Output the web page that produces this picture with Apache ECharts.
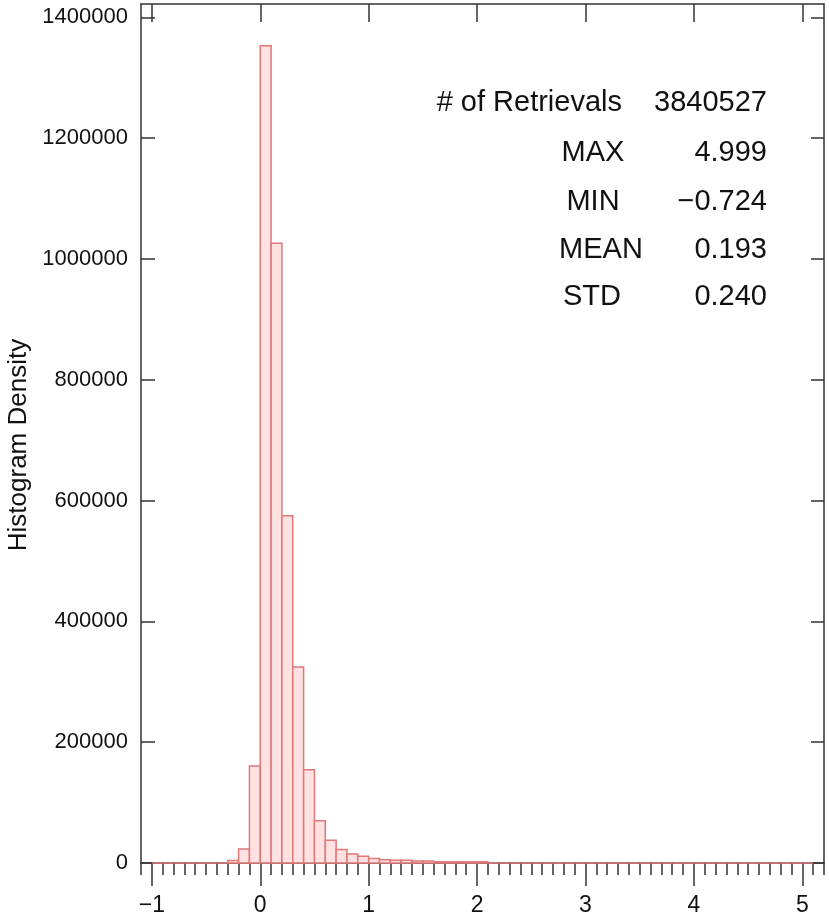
<!DOCTYPE html>
<html>
<head>
<meta charset="utf-8">
<script src="https://cdn.jsdelivr.net/npm/echarts@6/dist/echarts.min.js"></script>
<style>
  html, body { margin: 0; padding: 0; background: #ffffff; }
  #chart { width: 829px; height: 920px; }
</style>
</head>
<body>
<div id="chart"></div>
<script>
// Histogram of retrieved values: bins of 0.1 starting at -1.0
const binStart = -1.0;
const binWidth = 0.1;
const binCounts = [
  0, 0, 0, 0, 0, 0, 0, 4000, 23000, 160500,          // -1.0 .. -0.1
  1353000, 1026000, 575000, 324500, 154500, 70000, 37500, 22500, 15000, 11000, // 0.0 .. 0.9
  7500, 5500, 4500, 4500, 3500, 3500, 2000, 2000, 2000, 2000,                // 1.0 .. 1.9
  2000, 0, 0, 0, 0, 0, 0, 0, 0, 0,                    // 2.0 .. 2.9
  0, 0, 0, 0, 0, 0, 0, 0, 0, 0,                       // 3.0 .. 3.9
  0, 0, 0, 0, 0, 0, 0, 0, 0, 0,                       // 4.0 .. 4.9
  0                                                   // 5.0
];

// Axis ticks and labels
const xMajorTicks = [-1, 0, 1, 2, 3, 4, 5];
const yMajorTicks = [0, 200000, 400000, 600000, 800000, 1000000, 1200000, 1400000];
const xRange = [-1.1, 5.2];
const yRange = [0, 1422000];

// Summary statistics
const statLabels = ['# of Retrievals', 'MAX', 'MIN', 'MEAN', 'STD'];
const statValues = ['3840527', '4.999', '\u22120.724', '0.193', '0.240'];

const xMinorTicks = [];
for (let k = -11; k <= 52; k++) xMinorTicks.push(Math.round(k) / 10);

const histData = binCounts.map((c, i) => {
  const left = +(binStart + i * binWidth).toFixed(2);
  return [left, +(left + binWidth).toFixed(2), c];
});

const axisColor = '#333333';
const fontFamily = '"Liberation Sans", Arial, sans-serif';

const chart = echarts.init(document.getElementById('chart'), null, { renderer: 'canvas' });

const statStyleBase = { fontFamily: fontFamily, fontSize: 29, fill: '#111111', verticalAlign: 'middle' };
const labelPos = [
  { x: 622, align: 'right' },
  { x: 593, align: 'center' },
  { x: 593, align: 'center' },
  { x: 601, align: 'center' },
  { x: 592, align: 'center' }
];
const rowY = [103, 153, 202, 250, 297];
const statGraphics = [];
statLabels.forEach((t, i) => {
  statGraphics.push({
    type: 'text', x: labelPos[i].x, y: rowY[i], z: 10,
    style: Object.assign({}, statStyleBase, { text: t, align: labelPos[i].align })
  });
  statGraphics.push({
    type: 'text', x: 767, y: rowY[i], z: 10,
    style: Object.assign({}, statStyleBase, { text: statValues[i], align: 'right' })
  });
});

const option = {
  backgroundColor: '#ffffff',
  animation: false,
  grid: { left: 141, right: 5, top: 4, bottom: 57, containLabel: false },
  xAxis: [
    {
      type: 'value', position: 'bottom', min: xRange[0], max: xRange[1],
      axisLine: { show: true, onZero: false, lineStyle: { color: axisColor, width: 1.5 } },
      axisTick: { show: true, inside: false, length: 23, customValues: xMajorTicks, lineStyle: { color: axisColor, width: 1.5 } },
      axisLabel: {
        show: true, customValues: xMajorTicks, margin: 31,
        fontFamily: fontFamily, fontSize: 23, color: '#111111',
        formatter: v => (v < 0 ? '\u2212' + Math.abs(v) : String(v))
      },
      splitLine: { show: false }
    },
    {
      type: 'value', position: 'bottom', min: xRange[0], max: xRange[1],
      axisLine: { show: false, onZero: false },
      axisTick: { show: true, inside: false, length: 12, customValues: xMinorTicks, lineStyle: { color: axisColor, width: 1.5 } },
      axisLabel: { show: false },
      splitLine: { show: false }
    },
    {
      type: 'value', position: 'top', min: xRange[0], max: xRange[1],
      axisLine: { show: true, onZero: false, lineStyle: { color: axisColor, width: 1.5 } },
      axisTick: { show: true, inside: true, length: 18, customValues: xMajorTicks, lineStyle: { color: axisColor, width: 1.5 } },
      axisLabel: { show: false },
      splitLine: { show: false }
    }
  ],
  yAxis: [
    {
      type: 'value', position: 'left', min: yRange[0], max: yRange[1],
      axisLine: { show: true, onZero: false, lineStyle: { color: axisColor, width: 1.5 } },
      axisTick: { show: true, inside: true, length: 14, customValues: yMajorTicks, lineStyle: { color: axisColor, width: 1.5 } },
      axisLabel: {
        show: true, customValues: yMajorTicks, margin: 13,
        fontFamily: fontFamily, fontSize: 22, color: '#111111',
        formatter: v => String(v)
      },
      splitLine: { show: false }
    },
    {
      type: 'value', position: 'right', min: yRange[0], max: yRange[1],
      axisLine: { show: true, onZero: false, lineStyle: { color: axisColor, width: 1.5 } },
      axisTick: { show: true, inside: true, length: 13, customValues: yMajorTicks, lineStyle: { color: axisColor, width: 1.5 } },
      axisLabel: { show: false },
      splitLine: { show: false }
    }
  ],
  series: [
    {
      type: 'custom',
      xAxisIndex: 0,
      yAxisIndex: 0,
      z: 5,
      data: histData,
      encode: { x: [0, 1], y: 2 },
      renderItem: function (params, api) {
        const p0 = api.coord([api.value(0), api.value(2)]);
        const p1 = api.coord([api.value(1), 0]);
        return {
          type: 'rect',
          shape: { x: p0[0], y: p0[1], width: p1[0] - p0[0], height: p1[1] - p0[1] },
          style: { fill: '#ffe1e1', stroke: '#e07878', lineWidth: 1.5 }
        };
      }
    }
  ],
  graphic: [
    {
      type: 'text', x: 19, y: 445, rotation: Math.PI / 2, z: 10,
      style: {
        text: 'Histogram Density', fontFamily: fontFamily, fontSize: 26,
        fill: '#111111', align: 'center', verticalAlign: 'middle'
      }
    }
  ].concat(statGraphics)
};

chart.setOption(option);
</script>
</body>
</html>
